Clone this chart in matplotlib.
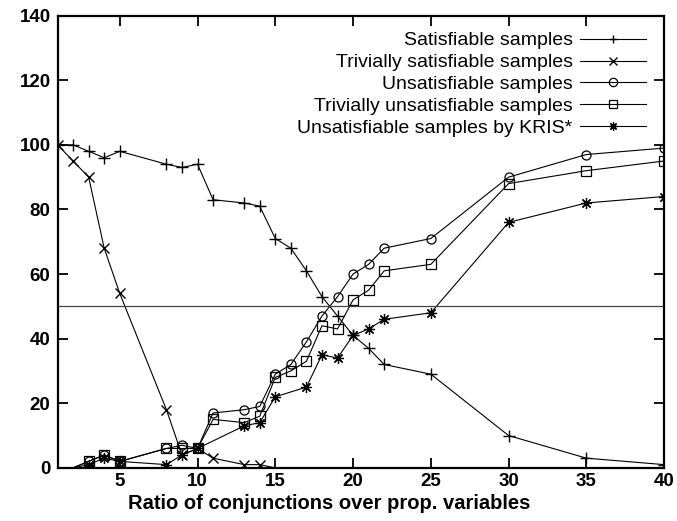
import matplotlib
matplotlib.use("Agg")
import matplotlib.pyplot as plt

plt.rcParams['font.family'] = ['Liberation Sans', 'DejaVu Sans']

# ratio values (x) per series
x_sat = [1, 2, 3, 4, 5, 8, 9, 10, 11, 13, 14, 15, 16, 17, 18, 19, 20, 21, 22, 25, 30, 35, 40]
sat = [100, 100, 98, 96, 98, 94, 93, 94, 83, 82, 81, 71, 68, 61, 53, 47, 41, 37, 32, 29, 10, 3, 1]

x_triv_sat = [1, 2, 3, 4, 5, 8, 9, 10, 11, 13, 14, 15]
triv_sat = [100, 95, 90, 68, 54, 18, 4, 6, 3, 1, 1, 0]

x_unsat = [2, 3, 4, 5, 8, 9, 10, 11, 13, 14, 15, 16, 17, 18, 19, 20, 21, 22, 25, 30, 35, 40]
unsat = [0, 2, 4, 2, 6, 7, 6, 17, 18, 19, 29, 32, 39, 47, 53, 60, 63, 68, 71, 90, 97, 99]
triv_unsat = [0, 2, 4, 2, 6, 6, 6, 15, 14, 16, 28, 30, 33, 44, 43, 52, 55, 61, 63, 88, 92, 95]

x_kris = [2, 3, 4, 5, 8, 9, 10, 13, 14, 15, 17, 18, 19, 20, 21, 22, 25, 30, 35, 40]
kris = [0, 1, 3, 2, 1, 4, 6, 13, 14, 22, 25, 35, 34, 41, 43, 46, 48, 76, 82, 84]

fig = plt.figure(figsize=(6.77, 5.21), dpi=100)
ax = fig.add_axes([0.085, 0.102, 0.896, 0.868])

lw = 0.8
ax.plot(x_sat, sat, color='black', lw=lw, marker='+', ms=8, mew=1.0, label='Satisfiable samples')
ax.plot(x_triv_sat, triv_sat, color='black', lw=lw, marker='x', ms=7, mew=1.0,
        markevery=list(range(len(x_triv_sat) - 1)), label='Trivially satisfiable samples')
ax.plot(x_unsat, unsat, color='black', lw=lw, marker='o', ms=6.5, mfc='none', mew=0.9,
        markevery=slice(1, None), label='Unsatisfiable samples')
ax.plot(x_unsat, triv_unsat, color='black', lw=lw, marker='s', ms=6.5, mfc='none', mew=0.9,
        markevery=slice(1, None), label='Trivially unsatisfiable samples')
ax.plot(x_kris, kris, color='black', lw=lw, marker=(8, 2, 0), ms=8, mew=0.9,
        markevery=slice(1, None), label='Unsatisfiable samples by KRIS*')

ax.axhline(50, color='#444444', lw=0.9)

ax.set_xlim(1, 40)
ax.set_ylim(0, 140)
ax.set_xticks([5, 10, 15, 20, 25, 30, 35, 40])
ax.set_yticks([0, 20, 40, 60, 80, 100, 120, 140])
ax.tick_params(direction='in', length=7, width=1.3, top=True, right=True, labelsize=13.5, pad=5)
ax.tick_params(axis='x', pad=4)
for lab in ax.get_xticklabels() + ax.get_yticklabels():
    lab.set_fontweight('bold')
for s in ax.spines.values():
    s.set_linewidth(1.6)

ax.set_xlabel('Ratio of conjunctions over prop. variables', fontsize=14.5, fontweight='bold')
ax.xaxis.set_label_coords(0.447, -0.058)

leg = ax.legend(loc='upper right', frameon=False, markerfirst=False, fontsize=14,
                handlelength=3.4, labelspacing=0.22, borderaxespad=0.2, handletextpad=0.4,
                bbox_to_anchor=(0.99, 0.99))
for h in leg.legend_handles:
    h.set_markersize(6)

fig.savefig('out.png', dpi=100)
